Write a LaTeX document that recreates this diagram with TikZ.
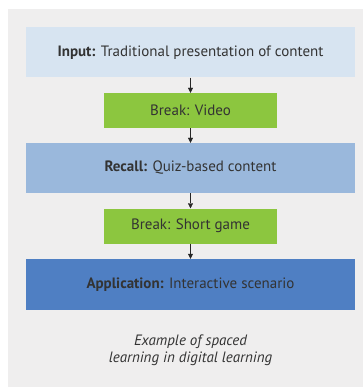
\documentclass[tikz,border=0pt]{standalone}
\usepackage{fontspec}
\setmainfont{PT Sans}
\usetikzlibrary{arrows.meta}

\definecolor{panelgray}{HTML}{EFEEEE}
\definecolor{inputblue}{HTML}{D7E4F1}
\definecolor{recallblue}{HTML}{9AB8DC}
\definecolor{applyblue}{HTML}{4F7FC3}
\definecolor{breakgreen}{HTML}{8CC63F}
\definecolor{textgray}{HTML}{333333}

\tikzset{
  stagebox/.style={minimum width=329pt, minimum height=50pt, inner sep=0pt,
    text=textgray, font=\fontsize{15}{17}\selectfont},
  breakbox/.style={fill=breakgreen, minimum width=173pt, minimum height=35pt,
    inner sep=0pt, text=textgray, font=\fontsize{15}{17}\selectfont},
  flow/.style={thin, black!85, -{Triangle[width=5pt,length=5pt]}}
}

\begin{document}
\begin{tikzpicture}[x=1pt,y=-1pt]
			%page and grey panel
			\useasboundingbox (0,0) rectangle (363,387);
			\fill[white] (0,0) rectangle (363,387);
			\fill[panelgray] (8,9) rectangle (363,387);
			
			%the stages
			\node[stagebox, fill=inputblue] (input) at (190.5,52.5)
				{\textbf{Input:} Traditional presentation of content};
			\node[breakbox] (video) at (190.5,110.5) {Break: Video};
			\node[stagebox, fill=recallblue] (recall) at (190.5,168)
				{\textbf{Recall:} Quiz-based content};
			\node[breakbox] (game) at (190.5,226) {Break: Short game};
			\node[stagebox, fill=applyblue, minimum height=51pt] (apply) at (190.5,284.5)
				{\textbf{Application:} Interactive scenario};
			
			%arrows between stages
			\foreach \a / \b in {input/video,video/recall,recall/game,game/apply}
			\draw[flow] (\a.south) -- (\b.north);
			
			%caption
			\node[align=center, text=textgray, font=\fontsize{15}{16.5}\selectfont\itshape] (caption) at (190.5,350)
				{Example of spaced\\learning in digital learning};
		\end{tikzpicture}
\end{document}
